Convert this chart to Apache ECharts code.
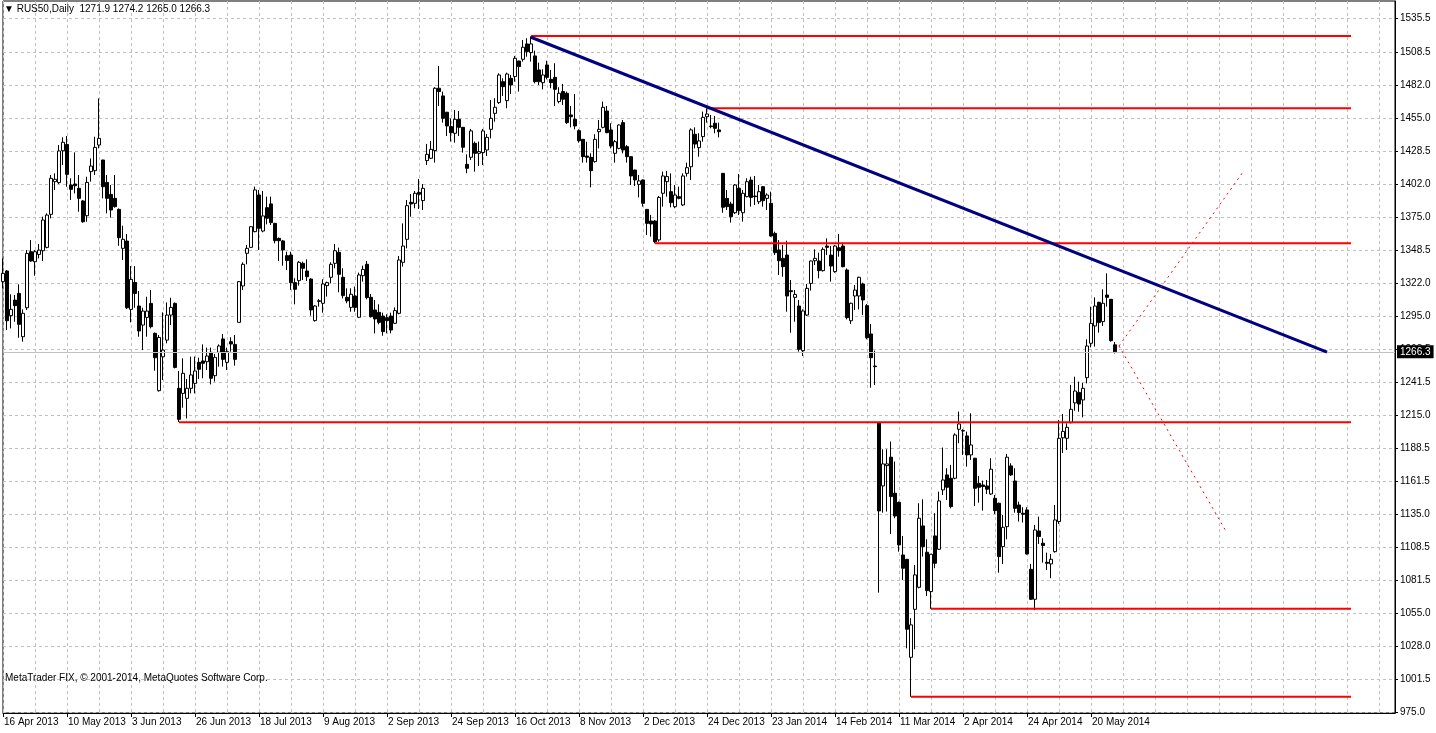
<!DOCTYPE html>
<html>
<head>
<meta charset="utf-8">
<script src="https://cdn.jsdelivr.net/npm/echarts@6/dist/echarts.min.js"></script>
<style>
html,body{margin:0;padding:0;background:#fff;}
#chart{width:1436px;height:733px;}
</style>
</head>
<body>
<div id="chart"></div>
<script>
// ---------- data ----------
const symbolName = 'RUS50,Daily';
const dateLabels = ['16 Apr 2013','10 May 2013','3 Jun 2013','26 Jun 2013','18 Jul 2013','9 Aug 2013','2 Sep 2013','24 Sep 2013','16 Oct 2013','8 Nov 2013','2 Dec 2013','24 Dec 2013','23 Jan 2014','14 Feb 2014','11 Mar 2014','2 Apr 2014','24 Apr 2014','20 May 2014'];
const yTicks = [975.0,1001.5,1028.0,1055.0,1081.5,1108.5,1135.0,1161.5,1188.5,1215.0,1241.5,1268.5,1295.0,1322.0,1348.5,1375.0,1402.0,1428.5,1455.0,1482.0,1508.5,1535.5];

const open = [1323.0,1331.6,1295.5,1308.1,1313.5,1278.5,1301.9,1347.2,1339.1,1345.0,1348.0,1350.7,1377.4,1403.8,1403.0,1428.8,1433.9,1401.1,1401.9,1398.4,
1388.2,1376.3,1411.9,1412.7,1433.4,1421.3,1403.2,1393.5,1390.3,1381.4,1349.9,1355.8,1300.6,1322.4,1303.3,1287.9,1294.1,1305.4,1281.2,1234.9,
1262.3,1275.8,1296.0,1305.4,1236.8,1232.7,1228.7,1236.8,1240.8,1257.8,1258.9,1258.3,1265.9,1247.0,1265.9,1276.7,1257.8,1274.5,1272.3,1290.1,
1319.5,1345.9,1350.7,1363.4,1393.0,1363.9,1382.8,1385.8,1370.1,1358.0,1355.9,1344.0,1344.5,1322.2,1323.8,1337.8,1331.6,1325.1,1291.5,1307.0,
1305.5,1319.8,1326.5,1337.8,1346.7,1326.5,1310.3,1302.2,1311.4,1294.2,1327.8,1337.0,1310.3,1300.1,1298.2,1295.2,1293.9,1295.2,1289.3,1297.4,
1338.6,1357.2,1387.1,1386.3,1395.2,1388.5,1420.8,1422.7,1428.9,1479.3,1473.1,1459.9,1448.3,1442.9,1454.2,1447.7,1417.8,1423.5,1434.8,1426.7,
1427.3,1429.4,1446.1,1459.0,1467.7,1484.6,1469.3,1487.3,1488.7,1501.3,1502.7,1515.1,1508.1,1505.4,1494.1,1483.8,1498.1,1486.5,1488.1,1468.5,
1476.6,1475.2,1457.7,1454.2,1445.0,1438.0,1424.5,1423.5,1420.0,1444.2,1447.7,1460.9,1445.6,1426.7,1430.7,1451.5,1432.1,1424.0,1413.2,1401.6,
1405.2,1381.4,1372.0,1372.0,1356.7,1394.4,1403.8,1395.7,1383.6,1391.7,1385.0,1410.5,1415.9,1442.1,1431.3,1440.2,1456.3,1448.8,1451.0,1445.6,
1410.5,1390.3,1385.7,1378.7,1398.4,1378.7,1391.7,1405.1,1392.2,1387.6,1399.7,1390.3,1386.3,1362.0,1348.6,1341.8,1344.5,1315.7,1310.3,1303.3,
1267.2,1296.0,1321.6,1339.9,1339.7,1331.9,1351.8,1344.5,1331.1,1350.4,1351.8,1332.4,1291.4,1311.4,1311.4,1321.1,1303.6,1280.7,1254.8,1208.5,
1157.9,1174.3,1181.1,1152.0,1144.7,1102.1,1098.6,1019.4,1058.2,1076.0,1125.6,1104.3,1072.5,1117.5,1106.7,1154.7,1166.8,1164.1,1164.1,1203.7,
1202.6,1198.3,1183.0,1180.3,1160.0,1158.7,1157.9,1151.4,1147.9,1143.9,1108.9,1125.0,1174.1,1161.9,1142.5,1135.8,1138.5,1090.5,1066.3,1121.5,
1111.6,1096.2,1094.9,1104.8,1129.1,1196.8,1196.4,1209.0,1225.0,1233.5,1227.4,1245.4,1273.2,1287.2,1306.3,1290.7,1312.2,1308.7,1271.9];

const high = [1341.8,1332.4,1312.7,1312.2,1320.8,1300.6,1348.5,1356.6,1348.5,1353.4,1375.5,1378.2,1409.2,1410.5,1433.4,1439.6,1440.7,1406.5,1427.5,1409.2,
1389.0,1407.8,1422.6,1440.1,1471.1,1421.5,1409.2,1401.1,1409.2,1382.2,1368.2,1361.5,1335.6,1335.6,1315.4,1301.9,1310.8,1316.2,1282.0,1279.9,
1298.2,1306.2,1310.0,1306.2,1250.8,1261.0,1244.3,1262.4,1262.4,1261.6,1272.3,1269.7,1269.7,1264.5,1272.3,1280.7,1269.7,1278.0,1279.9,1323.5,
1338.6,1352.6,1367.8,1399.8,1397.1,1396.3,1391.7,1391.7,1370.5,1358.6,1356.7,1347.2,1347.2,1325.7,1339.7,1339.2,1341.0,1325.7,1304.1,1309.0,
1324.9,1323.0,1338.6,1353.4,1350.5,1333.8,1317.6,1317.6,1319.0,1330.3,1335.9,1339.7,1313.0,1308.2,1304.7,1297.9,1296.6,1297.9,1302.2,1343.7,
1370.1,1389.0,1393.8,1396.3,1406.0,1401.9,1434.3,1436.7,1480.1,1497.3,1476.6,1460.2,1455.0,1461.7,1460.9,1448.0,1425.9,1446.4,1436.2,1436.2,
1446.4,1442.3,1469.8,1471.2,1491.4,1487.3,1491.9,1490.0,1505.4,1501.6,1518.3,1519.7,1521.2,1509.7,1500.0,1494.6,1501.6,1494.1,1499.5,1480.1,
1482.8,1476.6,1465.0,1474.7,1446.1,1438.3,1436.1,1426.7,1442.1,1453.6,1468.5,1465.0,1451.0,1437.5,1450.0,1453.6,1433.4,1424.3,1413.5,1409.2,
1405.5,1381.7,1376.9,1372.8,1392.2,1411.9,1412.4,1410.5,1401.1,1399.8,1410.5,1419.2,1446.9,1447.7,1442.9,1460.4,1463.1,1457.7,1456.9,1451.5,
1410.8,1397.1,1387.6,1401.9,1410.0,1397.1,1406.5,1407.8,1408.4,1401.1,1400.3,1394.4,1395.7,1363.4,1356.6,1352.6,1356.1,1324.3,1316.2,1308.2,
1300.6,1321.1,1340.0,1349.1,1346.4,1350.7,1358.0,1351.8,1352.6,1361.5,1354.5,1333.7,1306.0,1320.3,1327.0,1322.2,1304.9,1288.8,1267.2,1208.8,
1187.5,1187.5,1193.7,1177.6,1145.2,1117.5,1098.9,1051.0,1094.0,1143.9,1147.1,1114.8,1102.9,1135.8,1153.3,1188.9,1172.2,1174.9,1200.5,1218.0,
1203.7,1201.8,1216.6,1180.6,1166.0,1162.2,1162.7,1180.3,1150.6,1144.4,1134.5,1183.8,1176.2,1172.2,1145.2,1140.7,1140.7,1094.9,1126.4,1133.1,
1115.6,1104.0,1102.9,1142.5,1211.2,1216.0,1208.5,1239.5,1246.2,1242.2,1241.4,1276.4,1302.8,1310.3,1306.8,1316.8,1329.7,1309.0,1274.2];

const low = [1317.6,1283.9,1285.2,1290.6,1277.7,1274.5,1300.1,1339.1,1327.8,1341.8,1339.7,1349.9,1374.1,1397.0,1401.9,1417.2,1399.7,1389.0,1394.3,1379.5,
1370.6,1371.4,1403.8,1409.2,1430.7,1390.3,1378.2,1374.7,1382.8,1352.0,1340.5,1300.9,1290.1,1301.9,1278.5,1267.7,1278.5,1285.2,1251.0,1234.1,
1243.5,1273.1,1287.9,1252.9,1209.5,1221.1,1212.5,1232.7,1232.7,1244.3,1244.9,1251.6,1240.0,1242.2,1254.3,1254.3,1251.6,1266.4,1255.1,1290.1,
1316.3,1337.0,1350.5,1362.9,1348.6,1362.9,1369.3,1368.8,1354.0,1339.7,1335.9,1332.4,1316.3,1304.7,1319.8,1324.3,1323.5,1295.5,1290.7,1302.8,
1297.9,1310.9,1321.6,1333.8,1314.4,1309.5,1305.5,1298.7,1298.7,1293.9,1323.0,1308.7,1293.9,1281.2,1288.5,1279.3,1281.2,1281.2,1288.8,1296.6,
1335.1,1349.9,1375.5,1382.3,1381.7,1380.9,1417.3,1422.1,1419.2,1465.0,1451.5,1440.7,1436.2,1435.3,1440.7,1427.3,1410.6,1421.3,1411.9,1416.5,
1417.3,1424.6,1438.8,1452.3,1466.6,1473.1,1463.1,1474.7,1484.6,1476.6,1500.8,1504.8,1500.8,1483.3,1481.9,1478.4,1486.5,1479.3,1465.0,1467.1,
1465.8,1450.4,1447.7,1446.1,1435.3,1419.2,1419.2,1399.2,1419.2,1430.7,1446.9,1443.0,1430.7,1419.2,1429.9,1426.7,1419.2,1401.1,1400.3,1391.1,
1383.6,1360.7,1359.4,1354.0,1355.3,1383.6,1391.7,1383.1,1382.3,1389.5,1384.1,1407.9,1405.2,1430.7,1424.0,1436.1,1451.5,1446.9,1442.9,1439.6,
1378.7,1380.9,1370.7,1377.7,1376.9,1371.5,1391.1,1383.6,1384.9,1385.7,1383.6,1380.9,1359.3,1344.5,1328.4,1327.0,1298.7,1281.7,1290.6,1266.4,
1262.9,1295.2,1315.7,1336.4,1325.7,1331.1,1344.5,1323.0,1330.2,1343.2,1334.5,1292.5,1288.8,1300.1,1300.6,1296.0,1276.4,1237.3,1239.5,1071.7,
1136.3,1137.2,1119.1,1131.8,1104.8,1081.9,1026.7,987.6,1025.9,1075.2,1100.8,1069.0,1058.6,1091.4,1106.2,1150.6,1146.6,1139.8,1163.3,1192.4,
1183.0,1173.5,1178.9,1141.7,1144.4,1138.0,1151.4,1150.6,1135.3,1087.8,1094.9,1114.8,1166.0,1136.3,1129.1,1128.3,1102.5,1065.8,1057.5,1111.0,
1095.9,1090.0,1083.3,1104.0,1127.2,1184.5,1187.0,1208.5,1218.7,1217.9,1213.3,1240.8,1269.9,1270.5,1281.8,1287.2,1302.8,1274.5,1265.0];

const close = [1329.7,1291.4,1300.6,1303.6,1288.5,1297.4,1345.8,1339.7,1347.2,1348.5,1372.8,1376.8,1406.5,1405.7,1428.6,1435.6,1409.7,1397.6,1400.5,1390.3,
1371.4,1403.2,1416.4,1431.5,1438.8,1399.7,1390.3,1380.9,1383.6,1358.5,1357.2,1301.9,1324.8,1313.5,1283.1,1299.2,1299.2,1286.6,1261.5,1277.9,
1267.7,1296.0,1302.2,1253.7,1211.7,1248.9,1236.8,1247.6,1250.8,1252.2,1257.0,1262.9,1244.9,1261.8,1271.0,1260.2,1266.4,1272.6,1260.2,1323.0,
1337.0,1349.9,1367.4,1397.1,1366.1,1376.1,1374.2,1370.7,1356.1,1356.1,1348.6,1340.0,1322.2,1316.8,1338.6,1333.8,1327.0,1300.1,1303.3,1307.6,
1321.1,1322.2,1337.0,1348.0,1328.9,1311.7,1307.4,1312.8,1302.2,1328.4,1332.9,1310.1,1294.7,1292.8,1290.1,1282.6,1291.5,1283.9,1299.6,1340.5,
1351.8,1384.4,1385.8,1394.4,1393.6,1398.4,1425.9,1429.9,1479.3,1476.6,1455.0,1448.8,1443.4,1454.2,1447.7,1431.6,1414.6,1444.8,1426.7,1428.1,
1444.8,1439.6,1455.0,1463.9,1490.0,1480.6,1490.8,1481.9,1503.5,1496.8,1512.4,1508.9,1515.1,1484.6,1484.6,1490.0,1488.1,1483.8,1478.4,1475.2,
1470.4,1451.5,1456.3,1448.8,1436.9,1424.0,1423.5,1412.7,1438.0,1446.1,1463.9,1443.4,1432.6,1436.1,1449.6,1429.4,1424.0,1408.4,1405.2,1404.4,
1386.3,1370.1,1369.6,1355.3,1391.1,1408.4,1407.9,1386.8,1393.0,1390.3,1408.4,1415.1,1445.6,1434.2,1436.7,1455.8,1458.5,1448.3,1446.9,1444.2,
1383.1,1383.6,1375.5,1401.1,1380.4,1394.4,1403.8,1391.1,1391.7,1395.7,1388.4,1393.0,1359.9,1346.4,1339.9,1335.1,1311.4,1314.9,1312.7,1268.3,
1299.3,1317.6,1339.7,1341.8,1331.9,1349.1,1350.7,1335.6,1351.8,1348.0,1335.1,1293.9,1305.5,1316.2,1326.5,1308.2,1277.7,1261.5,1254.3,1137.7,
1175.7,1175.7,1149.3,1133.6,1110.2,1091.4,1042.1,1045.6,1086.0,1131.8,1108.9,1073.3,1102.7,1095.4,1145.8,1162.7,1156.8,1141.2,1199.1,1208.0,
1202.3,1183.0,1191.0,1156.0,1156.8,1157.4,1155.2,1171.4,1138.0,1100.8,1124.5,1181.1,1166.8,1139.8,1136.3,1135.0,1102.9,1066.3,1122.3,1117.0,
1109.7,1095.4,1098.6,1130.4,1196.4,1202.0,1205.3,1219.8,1234.6,1224.1,1236.8,1271.0,1289.3,1303.3,1289.9,1305.5,1310.3,1275.3,1266.3];

// analysis objects drawn on the chart: [startBar, price]
const levelStarts = [132, 176, 163, 44, 232, 227];
const levelPrices = [1521.5, 1463.1, 1354.0, 1209.3, 1058.6, 987.6];
const levelEndBar = 337;
const trendLine = [[132, 1520.5], [331, 1266.0]];
const projectionUp = [[279, 1271.0], [310, 1411.6]];
const projectionDown = [[279, 1271.0], [306, 1119.9]];

const TOTAL_SLOTS = 349;   // bars + chart shift area
const LABEL_EVERY = 16;
const GRID_EVERY = 8;

// ---------- chart ----------
const FONT = '"Liberation Sans", Arial, sans-serif';
const slots = Array.from({length: TOTAL_SLOTS}, (_, i) => String(i));
const last = close.length - 1;
const candleData = open.map((o, i) => [o, close[i], low[i], high[i]]);
const lastPrice = close[last];
const header = '\u25BC ' + symbolName + '  ' +
  [open[last], high[last], low[last], close[last]].map(v => v.toFixed(1)).join(' ');

const gridLine = {color: '#c0c0c0', width: 1, type: [3, 3]};

const levelSeries = levelStarts.map((s, k) => ({
  type: 'line', data: [[s, levelPrices[k]], [levelEndBar, levelPrices[k]]],
  symbol: 'none', silent: true, z: 4,
  lineStyle: {color: '#ff0000', width: 2}
}));

const chart = echarts.init(document.getElementById('chart'), null, {renderer: 'canvas'});
chart.setOption({
  animation: false,
  backgroundColor: '#ffffff',
  title: [
    {text: header, left: 4, top: 4, padding: 0,
     textStyle: {fontSize: 10, fontWeight: 'normal', color: '#000', fontFamily: FONT}},
    {text: 'MetaTrader FIX, \u00A9 2001-2014, MetaQuotes Software Corp.', left: 5, top: 673, padding: 0,
     textStyle: {fontSize: 10, fontWeight: 'normal', color: '#000', fontFamily: FONT}}
  ],
  grid: {left: 3, right: 41, top: 1, bottom: 20, containLabel: false, outerBoundsMode: 'none',
         show: true, borderColor: '#000', borderWidth: 1, backgroundColor: 'transparent'},
  xAxis: {
    type: 'category', data: slots, boundaryGap: false,
    axisLine: {show: true, lineStyle: {color: '#000', width: 1}},
    axisTick: {show: true, interval: (i) => i % LABEL_EVERY === 0 && i <= last, length: 4, lineStyle: {color: '#000'}},
    axisLabel: {
      interval: (i) => i % LABEL_EVERY === 0,
      formatter: (v, i) => dateLabels[i / LABEL_EVERY] || '',
      align: 'left', margin: 4, color: '#000', fontSize: 10, fontFamily: FONT, padding: [0, 0, 0, 1],
      hideOverlap: false
    },
    splitLine: {show: true, interval: (i) => i % GRID_EVERY === 0, lineStyle: gridLine}
  },
  yAxis: {
    type: 'value', position: 'right', min: 974.4, max: 1549.8, scale: true,
    axisLine: {show: true, lineStyle: {color: '#000', width: 1}},
    axisTick: {show: true, customValues: yTicks, length: 3, lineStyle: {color: '#000'}},
    axisLabel: {customValues: yTicks, formatter: (v) => Number(v).toFixed(1), color: '#000',
                fontSize: 10, fontFamily: FONT, margin: 5, align: 'left'},
    splitLine: {show: true, lineStyle: gridLine}
  },
  series: [
    {
      type: 'candlestick', data: candleData, barWidth: 3, clip: false, silent: true, z: 3,
      itemStyle: {color: '#ffffff', color0: '#000000', borderColor: '#000000', borderColor0: '#000000',
                  borderColorDoji: '#000000', borderWidth: 1},
      markLine: {
        silent: true, symbol: ['none', 'none'], animation: false,
        lineStyle: {color: '#c0c0c0', width: 1, type: 'solid'},
        label: {show: true, position: 'end', distance: 2, formatter: () => lastPrice.toFixed(1),
                color: '#fff', backgroundColor: '#000', padding: [2, 3, 1, 3], fontSize: 10, fontFamily: FONT},
        data: [{yAxis: lastPrice}]
      }
    },
    ...levelSeries,
    {type: 'line', data: trendLine, symbol: 'none', silent: true, z: 5,
     lineStyle: {color: '#000080', width: 3}},
    {type: 'line', data: projectionUp, symbol: 'none', silent: true, z: 5,
     lineStyle: {color: '#ff0000', width: 1, type: [2, 4]}},
    {type: 'line', data: projectionDown, symbol: 'none', silent: true, z: 5,
     lineStyle: {color: '#ff0000', width: 1, type: [2, 4]}}
  ]
});
</script>
</body>
</html>
